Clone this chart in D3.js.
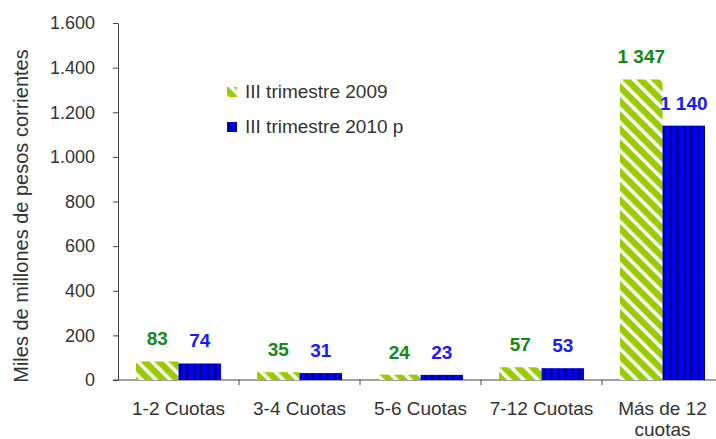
<!DOCTYPE html>
<html>
<head>
<meta charset="utf-8">
<script src="https://cdn.jsdelivr.net/npm/d3@7"></script>
<style>
  body { margin: 0; background: #fff; }
  svg { font-family: "Liberation Sans", Arial, sans-serif; }
</style>
</head>
<body>
<div id="chart"></div>
<script>
// data
const categories = ['1-2 Cuotas', '3-4 Cuotas', '5-6 Cuotas', '7-12 Cuotas', 'Más de 12|cuotas'];
const series2009 = [83, 35, 24, 57, 1347];
const series2010 = [74, 31, 23, 53, 1140];
const seriesNames = ['III trimestre 2009', 'III trimestre 2010 p'];
const yTicks = [0, 200, 400, 600, 800, 1000, 1200, 1400, 1600];

const width = 716, height = 439;
const margin = { left: 118, top: 23, right: -7, bottom: 59 };

const svg = d3.select('#chart').append('svg')
    .attr('width', width)
    .attr('height', height);

// patterns for the bars
const defs = svg.append('defs');
const pGreen = defs.append('pattern')
    .attr('id', 'pGreen')
    .attr('patternUnits', 'userSpaceOnUse')
    .attr('width', 10).attr('height', 10)
    .attr('patternTransform', 'rotate(-45)');
pGreen.append('rect').attr('width', 10).attr('height', 10).attr('fill', '#99cc00');
pGreen.append('rect').attr('x', 0).attr('width', 3.5).attr('height', 10).attr('fill', '#ffffff');

const pBlue = defs.append('pattern')
    .attr('id', 'pBlue')
    .attr('patternUnits', 'userSpaceOnUse')
    .attr('width', 7).attr('height', 10);
pBlue.append('rect').attr('width', 7).attr('height', 10).attr('fill', '#0000ff');
pBlue.append('rect').attr('x', 4).attr('width', 2.5).attr('height', 10).attr('fill', '#000080');

const x = d3.scaleBand()
    .domain(categories)
    .range([margin.left, width - margin.right])
    .paddingInner(0)
    .paddingOuter(0);

const y = d3.scaleLinear()
    .domain([0, 1600])
    .range([height - margin.bottom, margin.top]);

const barW = 42.5;

// y axis
const yAxis = svg.append('g')
    .attr('transform', `translate(${margin.left},0)`)
    .call(d3.axisLeft(y).tickValues(yTicks).tickSize(5).tickSizeOuter(0)
        .tickFormat(d => d3.format(',')(d).replace(/,/g, '.')));
yAxis.select('.domain').attr('stroke', '#444');
yAxis.selectAll('.tick line').attr('stroke', '#444');
yAxis.selectAll('.tick text')
    .attr('x', -23)
    .attr('fill', '#333')
    .style('font-size', '18px')
    .style('font-family', '"Liberation Sans", Arial, sans-serif');

// x axis
const xAxis = svg.append('g')
    .attr('transform', `translate(0,${y(0)})`);
xAxis.append('line')
    .attr('x1', margin.left - 5).attr('x2', width)
    .attr('stroke', '#444');
xAxis.selectAll('line.tk')
    .data(categories)
    .join('line')
    .attr('class', 'tk')
    .attr('x1', d => x(d) + x.bandwidth())
    .attr('x2', d => x(d) + x.bandwidth())
    .attr('y1', 0).attr('y2', 5)
    .attr('stroke', '#444');

const xl = xAxis.selectAll('text.cat')
    .data(categories)
    .join('text')
    .attr('class', 'cat')
    .attr('text-anchor', 'middle')
    .attr('fill', '#333')
    .style('font-size', '19px');
xl.each(function (d) {
    const parts = d.split('|');
    const t = d3.select(this);
    parts.forEach((p, i) => {
        t.append('tspan')
            .attr('x', x(d) + x.bandwidth() / 2)
            .attr('y', 35 + i * 21)
            .text(p);
    });
});

// bars
const groups = [
    { vals: series2009, fill: 'url(#pGreen)', color: '#138a13', off: -barW },
    { vals: series2010, fill: 'url(#pBlue)', color: '#1a1aff', off: 0 }
];

groups.forEach(g => {
    svg.append('g').selectAll('rect')
        .data(categories)
        .join('rect')
        .attr('x', (d, i) => x(d) + x.bandwidth() / 2 + g.off)
        .attr('y', (d, i) => y(g.vals[i]))
        .attr('width', barW)
        .attr('height', (d, i) => y(0) - y(g.vals[i]))
        .attr('fill', g.fill);

    svg.append('g').selectAll('text')
        .data(categories)
        .join('text')
        .attr('x', (d, i) => x(d) + x.bandwidth() / 2 + g.off + barW / 2)
        .attr('y', (d, i) => y(g.vals[i]) - 16)
        .attr('text-anchor', 'middle')
        .attr('fill', g.color)
        .style('font-size', '19px')
        .style('font-weight', 'bold')
        .text((d, i) => d3.format(',')(g.vals[i]).replace(/,/g, ' '));
});

// legend
const legend = svg.append('g');
seriesNames.forEach((name, i) => {
    legend.append('rect')
        .attr('x', 227).attr('y', 87 + i * 35)
        .attr('width', 10).attr('height', 10)
        .attr('fill', i === 0 ? 'url(#pGreen)' : 'url(#pBlue)');
    legend.append('text')
        .attr('x', 245).attr('y', 98 + i * 35)
        .attr('fill', '#333')
        .style('font-size', '19px')
        .text(name);
});

// y axis title
svg.append('text')
    .attr('transform', `translate(28,216) rotate(-90)`)
    .attr('text-anchor', 'middle')
    .attr('fill', '#333')
    .style('font-size', '20px')
    .text('Miles de millones de pesos corrientes');
</script>
</body>
</html>
